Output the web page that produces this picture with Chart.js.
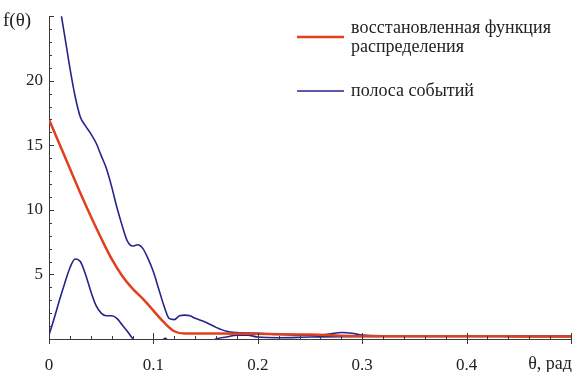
<!DOCTYPE html>
<html>
<head>
<meta charset="utf-8">
<script src="https://cdn.jsdelivr.net/npm/chart.js@4.4.1/dist/chart.umd.min.js"></script>
<style>
  body { margin: 0; background: #fff; }
  #wrap { width: 573px; height: 372px; position: relative; }
</style>
</head>
<body>
<div id="wrap"><canvas id="plot"></canvas></div>
<script>
// restored distribution function (red)
var thetaRed = [0, 0.01, 0.02, 0.03, 0.04, 0.05, 0.06, 0.07, 0.08, 0.09, 0.1, 0.11, 0.12, 0.13, 0.16, 0.2, 0.25, 0.3, 0.35, 0.43, 0.45, 0.5];
var fRed = [17, 15.1, 13.2, 11.3, 9.5, 7.8, 6.2, 4.9, 3.9, 3.1, 2.2, 1.3, 0.6, 0.42, 0.42, 0.4, 0.35, 0.22, 0.22, 0.22, 0.2, 0.2];

// event band, upper edge (blue)
var thetaUpper = [0, 0.005, 0.01, 0.015, 0.02, 0.025, 0.03, 0.035, 0.04, 0.045, 0.05, 0.055, 0.06, 0.065, 0.07, 0.075, 0.08, 0.085, 0.09, 0.095, 0.1, 0.105, 0.11, 0.115, 0.12, 0.125, 0.13, 0.135, 0.14, 0.15, 0.16, 0.17, 0.18, 0.2, 0.22, 0.24, 0.26, 0.27, 0.28, 0.29, 0.3, 0.32, 0.4, 0.43, 0.44, 0.5];
var fUpper = [32, 29, 26, 23.5, 21, 18.8, 17.2, 16.5, 15.9, 15.2, 14.2, 13.2, 11.8, 10.2, 8.8, 7.6, 7.2, 7.3, 7.0, 6.2, 5.2, 3.9, 2.6, 1.6, 1.5, 1.8, 1.85, 1.8, 1.6, 1.3, 0.9, 0.6, 0.5, 0.45, 0.35, 0.3, 0.3, 0.4, 0.5, 0.45, 0.3, 0.25, 0.25, 0.25, 0.2, 0.2];

// event band, lower edge (blue)
var thetaLower = [0, 0.005, 0.01, 0.015, 0.02, 0.025, 0.03, 0.035, 0.04, 0.045, 0.05, 0.055, 0.06, 0.065, 0.07, 0.075, 0.08, 0.085, 0.1, 0.112, 0.114, 0.13, 0.15, 0.16, 0.17, 0.18, 0.19, 0.2, 0.22, 0.25, 0.3, 0.4, 0.5];
var fLower = [0.3, 1.6, 3.0, 4.3, 5.5, 6.2, 6.0, 5.0, 3.7, 2.6, 2.0, 1.8, 1.8, 1.6, 1.1, 0.6, 0.05, -0.5, -0.6, 0.05, -0.3, -0.6, -0.5, 0, 0.15, 0.3, 0.3, 0.15, 0.1, 0.15, 0.2, 0.2, 0.2];

var xTicks = [0, 0.1, 0.2, 0.3, 0.4];
var yTicks = [5, 10, 15, 20];

function pts(xs, ys) {
  return xs.map(function (x, i) { return { x: x, y: ys[i] }; });
}

var serif = '"Liberation Serif", "DejaVu Serif", serif';
var axisColor = '#3a3a3a';

// Mathematica-style ticks pointing into the plot, plus axis labels
var frameTicks = {
  id: 'frameTicks',
  afterDraw: function (chart) {
    var ctx = chart.ctx, a = chart.chartArea;
    var xs = chart.scales.x, ys = chart.scales.y;
    ctx.save();
    ctx.strokeStyle = axisColor;
    ctx.lineWidth = 1;
    ctx.beginPath();
    for (var i = 0; i <= 25; i++) {
      var v = i / 50;
      var px = Math.round(xs.getPixelForValue(v)) + 0.5;
      var major = i % 5 === 0;
      ctx.moveTo(px, a.bottom + (major ? 5 : 0));
      ctx.lineTo(px, a.bottom - (major ? 6 : 3));
    }
    for (var j = 0; j <= 25; j++) {
      var py = Math.round(ys.getPixelForValue(j)) + 0.5;
      var maj = j % 5 === 0;
      ctx.moveTo(a.left, py);
      ctx.lineTo(a.left + (maj ? 5 : 3), py);
    }
    ctx.stroke();

    ctx.fillStyle = '#222';
    ctx.font = '19px ' + serif;
    ctx.textBaseline = 'middle';
    ctx.textAlign = 'left';
    ctx.fillText('f(θ)', 3, 21);
    ctx.font = '18px ' + serif;
    ctx.textAlign = 'right';
    ctx.fillText('θ, рад', 572, 364);

    // legend
    ctx.font = '18px ' + serif;
    ctx.textAlign = 'left';
    var rows = [37, 91];
    chart.data.datasets.slice(0, 2).forEach(function (ds, k) {
      var y = rows[k];
      ctx.strokeStyle = ds.borderColor;
      ctx.lineWidth = ds.borderWidth;
      ctx.beginPath();
      ctx.moveTo(297, y);
      ctx.lineTo(344, y);
      ctx.stroke();
      ds.label.split('\n').forEach(function (line, n) {
        ctx.fillText(line, 351, y - 9 + n * 19 + (k === 1 ? 9 : 0));
      });
    });
    ctx.restore();
  }
};

new Chart(document.getElementById('plot'), {
  type: 'line',
  data: {
    datasets: [{
      label: 'восстановленная функция\nраспределения',
      data: pts(thetaRed, fRed),
      borderColor: '#e0401c',
      borderWidth: 2.5,
      pointRadius: 0,
      cubicInterpolationMode: 'monotone'
    }, {
      label: 'полоса событий',
      data: pts(thetaUpper, fUpper),
      borderColor: '#26248a',
      borderWidth: 1.6,
      pointRadius: 0,
      cubicInterpolationMode: 'monotone'
    }, {
      label: 'полоса событий (нижняя)',
      data: pts(thetaLower, fLower),
      borderColor: '#26248a',
      borderWidth: 1.6,
      pointRadius: 0,
      cubicInterpolationMode: 'monotone'
    }]
  },
  options: {
    responsive: true,
    maintainAspectRatio: false,
    animation: false,
    layout: { padding: { top: 15, right: 2, left: 0, bottom: 0 } },
    plugins: { legend: { display: false }, tooltip: { enabled: false } },
    scales: {
      x: {
        type: 'linear',
        min: 0,
        max: 0.5,
        afterBuildTicks: function (s) { s.ticks = xTicks.map(function (v) { return { value: v }; }); },
        afterFit: function (s) { s.height = 33; },
        grid: { display: false, drawTicks: false },
        border: { display: true, color: axisColor, width: 1 },
        ticks: { color: '#222', font: { family: serif, size: 17 }, padding: 16, maxRotation: 0 }
      },
      y: {
        min: 0,
        max: 25,
        afterBuildTicks: function (s) { s.ticks = yTicks.map(function (v) { return { value: v }; }); },
        afterFit: function (s) { s.width = 49; },
        grid: { display: false, drawTicks: false },
        border: { display: true, color: axisColor, width: 1 },
        ticks: { color: '#222', font: { family: serif, size: 17 }, padding: 6 }
      }
    }
  },
  plugins: [frameTicks]
});
</script>
</body>
</html>
